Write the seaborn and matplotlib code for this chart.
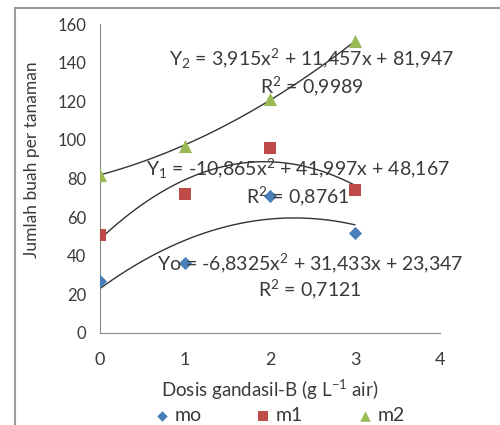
import numpy as np
import pandas as pd
import matplotlib
matplotlib.use("Agg")
import matplotlib.pyplot as plt
import seaborn as sns

# data
dosis = [0, 1, 2, 3]
mo = [27, 36, 71, 52]
m1 = [51, 72, 96, 74]
m2 = [82, 97, 121, 151]
series = ["mo", "m1", "m2"]
colors = ["#4a7ebb", "#be4b48", "#98b954"]
markers = ["D", "s", "^"]
sizes = [45, 70, 90]

eq_text = [
    r"Yo = -6,8325x$^2$ + 31,433x + 23,347" + "\n" + r"R$^2$ = 0,7121",
    r"Y$_1$ = -10,865x$^2$ + 41,997x + 48,167" + "\n" + r"R$^2$ = 0,8761",
    r"Y$_2$ = 3,915x$^2$ + 11,457x + 81,947" + "\n" + r"R$^2$ = 0,9989",
]
eq_pos = [(2.47, 29.5), (2.33, 78), (2.49, 135)]

df = pd.DataFrame({
    "dosis": dosis * 3,
    "buah": mo + m1 + m2,
    "seri": [s for s in series for _ in dosis],
})

sns.set_style("white")
plt.rcParams["font.family"] = ["Lato", "DejaVu Sans"]
plt.rcParams["mathtext.fontset"] = "custom"
plt.rcParams["mathtext.rm"] = "Lato"
plt.rcParams["mathtext.it"] = "Lato"

txt = "#3a3a3a"
fig = plt.figure(figsize=(5, 4.25), dpi=100)
ax = fig.add_axes([0.2, 0.2165, 0.68, 0.727])

# trendlines (2nd order polynomial)
for s in series:
    sub = df[df["seri"] == s]
    sns.regplot(data=sub, x="dosis", y="buah", order=2, ci=None, scatter=False,
                truncate=True, color="#333333", line_kws={"lw": 1}, ax=ax)

for s, c, m, sz in zip(series, colors, markers, sizes):
    sub = df[df["seri"] == s]
    ax.scatter(sub["dosis"], sub["buah"], color=c, marker=m, s=sz, label=s,
               zorder=3, linewidths=0)

for t, (x, y) in zip(eq_text, eq_pos):
    ax.text(x, y, t, ha="center", va="center", fontsize=14, color=txt,
            linespacing=1.15)

ax.set_xlim(0, 4)
ax.set_ylim(0, 160)
ax.set_xticks(range(0, 5))
ax.set_yticks(range(0, 161, 20))
ax.tick_params(axis="both", direction="out", length=4, width=0.8, color="#888888",
               labelsize=12, labelcolor=txt, pad=6)
ax.tick_params(axis="x", labelsize=13, pad=10)
for sp in ["top", "right"]:
    ax.spines[sp].set_visible(False)
for sp in ["left", "bottom"]:
    ax.spines[sp].set_color("#888888")
    ax.spines[sp].set_linewidth(0.8)

ax.set_xlabel(r"Dosis gandasil-B (g L$^{-1}$ air)", fontsize=13.5, color=txt)
ax.xaxis.set_label_coords(0.5, (333 - 390) / 309)
ax.set_ylabel("Jumlah buah per tanaman", fontsize=12.5, color=txt)
ax.yaxis.set_label_coords((32 - 100) / 340, (333 - 160) / 309)
ax.xaxis.label.set_va("center")
ax.yaxis.label.set_va("center")

fig.legend(loc="center", bbox_to_anchor=(0.56, 0.022), ncol=3, frameon=False,
           fontsize=14, handlelength=0.7, handletextpad=0.3, columnspacing=2.8,
           markerscale=0.8, labelcolor=txt)

# chart area border (left & top visible in the crop)
fig.add_artist(plt.Line2D([15 / 500, 15 / 500], [0, 1 - 8 / 425], color="#999999", lw=1.5))
fig.add_artist(plt.Line2D([15 / 500, 1], [1 - 8 / 425, 1 - 8 / 425], color="#999999", lw=1.5))

fig.savefig("out.png", dpi=100)
